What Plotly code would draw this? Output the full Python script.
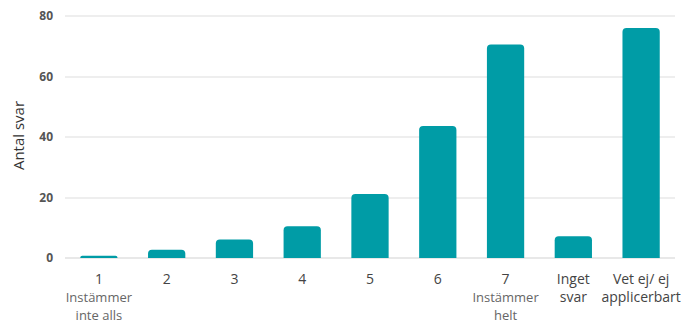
import plotly.graph_objects as go

categories = ["1", "2", "3", "4", "5", "6", "7", "Inget svar", "Vet ej/ ej applicerbart"]
values = [0.75, 2.7, 6.1, 10.5, 21.2, 43.6, 70.6, 7.2, 76]
tick_labels = [
    "1<br><span style='font-size:13px;color:#666666'>Instämmer<br>inte alls</span>",
    "2", "3", "4", "5", "6",
    "7<br><span style='font-size:13px;color:#666666'>Instämmer<br>helt</span>",
    "Inget<br>svar",
    "Vet ej/ ej<br>applicerbart",
]
y_ticks = [0, 20, 40, 60, 80]

fig = go.Figure(go.Bar(
    x=categories, y=values, marker_color="#009ca6", marker_line_width=0,
))
fig.update_layout(
    width=681, height=316,
    margin=dict(l=57, r=14, t=5, b=66),
    plot_bgcolor="white", paper_bgcolor="white",
    bargap=0.45, barcornerradius=4,
    font=dict(family="Open Sans, sans-serif", size=13, color="#444444"),
    showlegend=False,
)
fig.update_xaxes(
    tickvals=categories, ticktext=tick_labels, showgrid=False, automargin=False,
    showline=False, ticks="", tickfont=dict(size=14, color="#444444"),
    ticklabelstandoff=11,
)
fig.update_yaxes(
    range=[0, 81], tickvals=y_ticks, showgrid=True, gridcolor="#eeeeee", gridwidth=2,
    zeroline=True, zerolinecolor="#e8e8e8", zerolinewidth=2, automargin=False,
    tickfont=dict(size=12, color="#555555", weight="bold"),
    ticklabelstandoff=11, ticklabeloverflow="allow",
    title=dict(text="Antal svar", font=dict(size=15, color="#333333"), standoff=13),
)
fig.write_html("out.html")
